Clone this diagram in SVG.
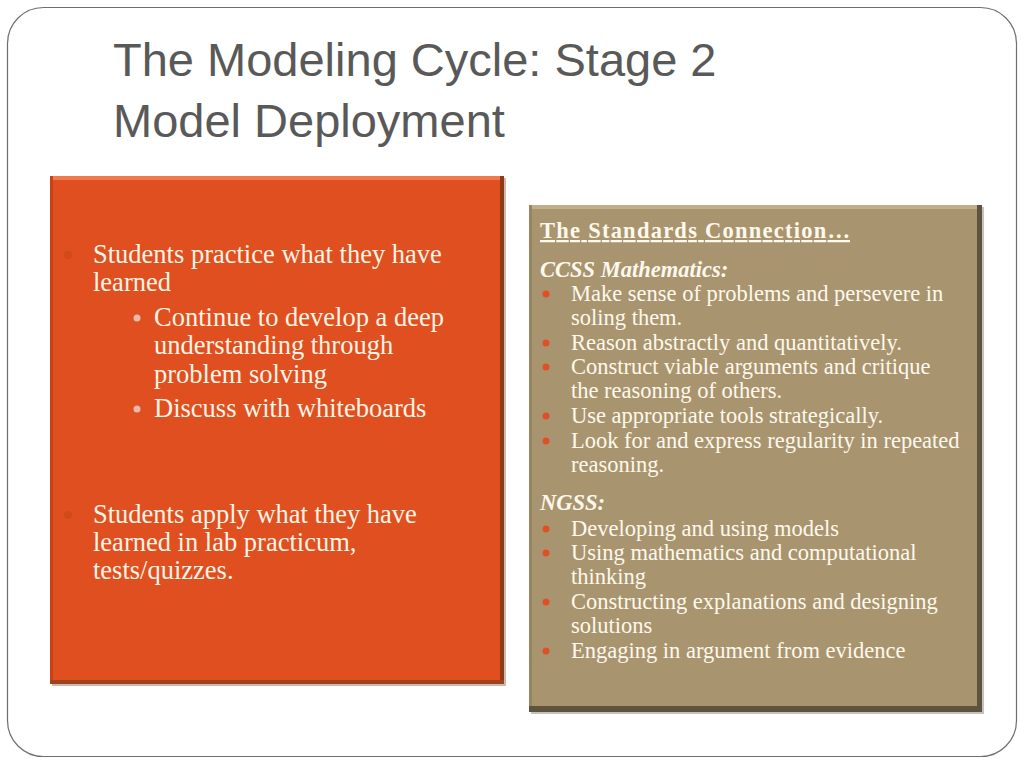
<svg xmlns="http://www.w3.org/2000/svg" width="1024" height="768" viewBox="0 0 1024 768">
<style>
.title{font-family:"Liberation Sans",Arial,sans-serif;font-size:47px;fill:#595959}
.lt{font-family:"Liberation Serif","Times New Roman",serif;font-size:26.5px;fill:#FFF4E6}
.rt{font-family:"Liberation Serif","Times New Roman",serif;font-size:22.5px;fill:#FFF8EC}
.hd{font-weight:bold;text-decoration:underline}
.bi{font-weight:bold;font-style:italic}
.rb{fill:#E05028}
</style>
<rect width="1024" height="768" fill="#FFFFFF"/>
<rect x="7.5" y="7.5" width="1009" height="749" rx="36" ry="36" fill="none" stroke="#6E6E6E" stroke-width="1.2"/>
<g id="title">
<text class="title" x="113" y="76">The Modeling Cycle: Stage 2</text>
<text class="title" x="113" y="137">Model Deployment</text>
</g>
<g id="left-box">
<rect x="50" y="176" width="454" height="508" fill="#7A3418" opacity="0.35" transform="translate(2,2)"/>
<rect x="50" y="176" width="454" height="508" fill="#E04F1F"/>
<rect x="50" y="176" width="454" height="4" fill="#EF7A4E"/>
<rect x="50" y="176" width="3" height="508" fill="#C84418"/>
<rect x="500" y="176" width="4" height="508" fill="#8C3A1A"/>
<rect x="50" y="680" width="454" height="4" fill="#A0421C"/>
<circle cx="68" cy="255" r="4" fill="#D24A1C"/>
<text class="lt" x="93" y="263">Students practice what they have</text>
<text class="lt" x="93" y="291">learned</text>
<circle cx="137" cy="318" r="3.5" fill="#EBB8AC"/>
<text class="lt" x="154" y="326">Continue to develop a deep</text>
<text class="lt" x="154" y="354">understanding through</text>
<text class="lt" x="154" y="383">problem solving</text>
<circle cx="137" cy="409" r="3.5" fill="#EBB8AC"/>
<text class="lt" x="154" y="417">Discuss with whiteboards</text>
<circle cx="68" cy="515" r="4" fill="#D24A1C"/>
<text class="lt" x="93" y="523">Students apply what they have</text>
<text class="lt" x="93" y="551">learned in lab practicum,</text>
<text class="lt" x="93" y="579">tests/quizzes.</text>
</g>
<g id="right-box">
<rect x="529" y="205" width="453" height="507" fill="#3E3626" opacity="0.3" transform="translate(2,2)"/>
<rect x="529" y="205" width="453" height="507" fill="#A8956F"/>
<rect x="529" y="205" width="453" height="4" fill="#BFAE8A"/>
<rect x="529" y="205" width="3" height="507" fill="#978560"/>
<rect x="977" y="205" width="5" height="507" fill="#5E533F"/>
<rect x="529" y="706" width="453" height="6" fill="#5E533F"/>
<text class="rt hd" x="540" y="238" textLength="310" lengthAdjust="spacing">The Standards Connection…</text>
<text class="rt bi" x="540" y="277">CCSS Mathematics:</text>
<g class="rb">
<circle cx="546" cy="294" r="3.5"/>
<circle cx="546" cy="343" r="3.5"/>
<circle cx="546" cy="367" r="3.5"/>
<circle cx="546" cy="416" r="3.5"/>
<circle cx="546" cy="441" r="3.5"/>
<circle cx="546" cy="529" r="3.5"/>
<circle cx="546" cy="553" r="3.5"/>
<circle cx="546" cy="602" r="3.5"/>
<circle cx="546" cy="651" r="3.5"/>
</g>
<text class="rt" x="571" y="301">Make sense of problems and persevere in</text>
<text class="rt" x="571" y="325">soling them.</text>
<text class="rt" x="571" y="350">Reason abstractly and quantitatively.</text>
<text class="rt" x="571" y="374">Construct viable arguments and critique</text>
<text class="rt" x="571" y="398">the reasoning of others.</text>
<text class="rt" x="571" y="423">Use appropriate tools strategically.</text>
<text class="rt" x="571" y="448">Look for and express regularity in repeated</text>
<text class="rt" x="571" y="472">reasoning.</text>
<text class="rt bi" x="540" y="510">NGSS:</text>
<text class="rt" x="571" y="536">Developing and using models</text>
<text class="rt" x="571" y="560">Using mathematics and computational</text>
<text class="rt" x="571" y="584">thinking</text>
<text class="rt" x="571" y="609">Constructing explanations and designing</text>
<text class="rt" x="571" y="633">solutions</text>
<text class="rt" x="571" y="658">Engaging in argument from evidence</text>
</g>
</svg>
